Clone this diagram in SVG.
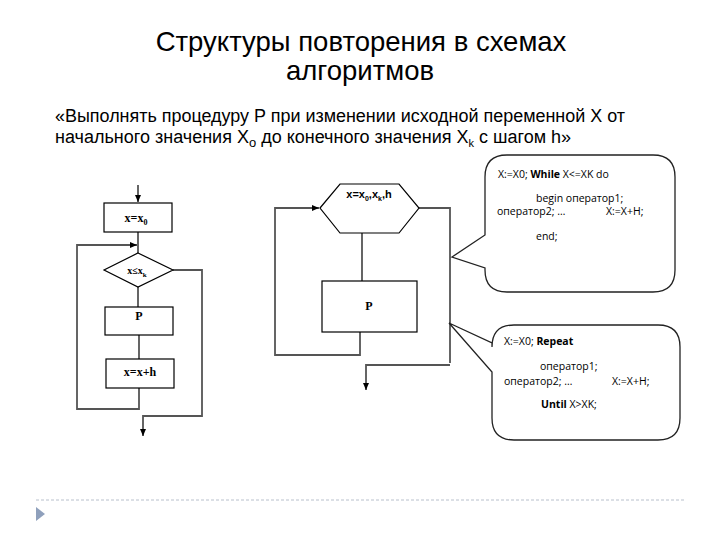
<svg xmlns="http://www.w3.org/2000/svg" width="720" height="540" viewBox="0 0 720 540">
<style>
.title{font-family:"Liberation Sans",Arial,sans-serif;font-size:27.5px;fill:#000;text-anchor:middle}
.sub{font-family:"Liberation Sans",Arial,sans-serif;font-size:18px;fill:#000}
.box{fill:#fff;stroke:#000;stroke-width:1.2}
.conn{fill:none;stroke:#555;stroke-width:1.8}
.serif{font-family:"Liberation Serif","Times New Roman",serif;font-weight:bold;fill:#000;text-anchor:middle}
.call{fill:#fff;stroke:#222;stroke-width:1.3}
.ct{font-family:"Open Sans","Liberation Sans",sans-serif;font-size:10.5px;fill:#000}
</style>
<defs>
<marker id="ah" markerWidth="8" markerHeight="8" refX="7" refY="4" orient="auto" markerUnits="userSpaceOnUse">
<path d="M0,1 L7,4 L0,7 Z" fill="#000"/>
</marker>
</defs>
<rect width="720" height="540" fill="#fff"/>

<g id="title">
<text class="title" x="361" y="51">Структуры повторения в схемах</text>
<text class="title" x="360" y="80">алгоритмов</text>
</g>
<g id="subtitle">
<text class="sub" x="55" y="122" textLength="570" lengthAdjust="spacingAndGlyphs">«Выполнять процедуру P при изменении исходной переменной X от</text>
<text class="sub" x="55" y="143">начального значения X<tspan font-size="13" dy="4">o</tspan><tspan dy="-4"> до конечного значения X</tspan><tspan font-size="11" dy="4">k</tspan><tspan dy="-4">  с шагом h»</tspan></text>
</g>

<g id="connectors">
<!-- left flowchart -->
<line class="conn" x1="138" y1="185" x2="138" y2="202" stroke="#000" stroke-width="1.2" marker-end="url(#ah)"/>
<line class="conn" x1="138" y1="232" x2="138" y2="253" stroke="#000" stroke-width="1.2"/>
<polyline class="conn" points="139,388 139,409 77,409 77,245 137,245" marker-end="url(#ah)"/>
<line class="conn" x1="138" y1="287" x2="138" y2="307"/>
<line class="conn" x1="139" y1="335" x2="139" y2="359"/>
<polyline class="conn" points="173,270 202,270 202,416 143,416 143,436" marker-end="url(#ah)"/>
<!-- middle flowchart -->
<polyline class="conn" points="360,332 360,355 275,355 275,208 319,208" marker-end="url(#ah)"/>
<line class="conn" x1="362" y1="233" x2="362" y2="281"/>
<polyline class="conn" points="419,208 450,208 450,363"/>
<polyline class="conn" points="450,365 366,365 366,390" marker-end="url(#ah)"/>
</g>

<g id="n-x0">
<rect class="box" x="104" y="203" width="68" height="29"/>
<text class="serif" x="136" y="222" font-size="12">x=x<tspan font-size="8" dy="3">0</tspan></text>
</g>
<g id="n-cond">
<polygon class="box" points="138,253 173,270 138,287 104,270"/>
<text class="serif" x="137" y="274" font-size="10">x≤x<tspan font-size="7" dy="3">k</tspan></text>
</g>
<g id="n-P1">
<rect class="box" x="105" y="307" width="68" height="28"/>
<text class="serif" x="139" y="320" font-size="12">P</text>
</g>
<g id="n-inc">
<rect class="box" x="106" y="359" width="68" height="29"/>
<text class="serif" x="140" y="376" font-size="12">x=x+h</text>
</g>

<g id="n-hex">
<polygon class="box" points="320,208 340,184 399,184 419,208 399,233 340,233"/>
<text x="369" y="198" font-family="Liberation Sans,Arial,sans-serif" font-size="11" font-weight="bold" text-anchor="middle">x=x<tspan font-size="7" dy="3">0</tspan><tspan dy="-3">,x</tspan><tspan font-size="7" dy="3">k</tspan><tspan dy="-3">,h</tspan></text>
</g>
<g id="n-P2">
<rect class="box" x="322" y="281" width="95" height="51"/>
<text class="serif" x="369" y="310" font-size="12">P</text>
</g>

<g id="callout-while">
<path class="call" d="M507,155 H653 Q675,155 675,177 V270 Q675,292 653,292 H507 Q485,292 485,270 V268 L452,257 L485,235 V177 Q485,155 507,155 Z"/>
<text class="ct" x="498" y="178">X:=X0; <tspan font-weight="bold">While</tspan> X&lt;=XK do</text>
<text class="ct" x="536" y="202">begin  оператор1;</text>
<text class="ct" x="497" y="215">оператор2; …</text>
<text class="ct" x="606" y="215">X:=X+H;</text>
<text class="ct" x="536" y="240">end;</text>
</g>

<g id="callout-repeat">
<path class="call" d="M514,325 H658 Q680,325 680,347 V418 Q680,440 658,440 H514 Q492,440 492,418 V372 L449,323 L492,343 V347 Q492,325 514,325 Z"/>
<text class="ct" x="504" y="345">X:=X0; <tspan font-weight="bold">Repeat</tspan></text>
<text class="ct" x="540" y="370">оператор1;</text>
<text class="ct" x="504" y="385">оператор2; …</text>
<text class="ct" x="612" y="385">X:=X+H;</text>
<text class="ct" x="541" y="408"><tspan font-weight="bold">Until</tspan> X&gt;XK;</text>
</g>

<g id="footer">
<line x1="36" y1="500" x2="684" y2="500" stroke="#b8c0cc" stroke-width="1" stroke-dasharray="3,2"/>
<polygon points="36,507 45,514 36,521" fill="#8fa0bc"/>
</g>
</svg>
